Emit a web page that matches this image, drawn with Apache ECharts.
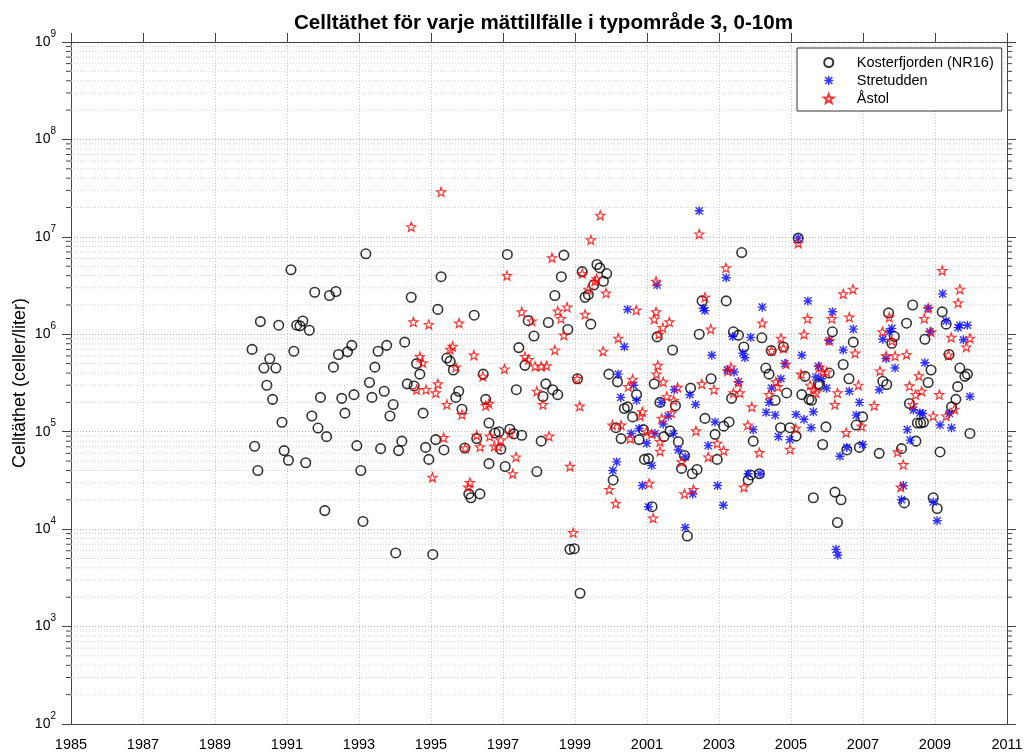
<!DOCTYPE html>
<html>
<head>
<meta charset="utf-8">
<script src="https://cdn.jsdelivr.net/npm/echarts@6/dist/echarts.min.js"></script>
</head>
<body style="margin:0;background:#fff">
<div id="main" style="width:1029px;height:755px;"></div>
<script type="text/javascript">
var kosterfjorden = [
  [1990.03,7.0e5],[1990.10,7.1e4],[1990.19,4.0e4],[1990.26,1.35e6],[1990.36,4.5e5],[1990.44,3.0e5],[1990.52,5.6e5],[1990.60,2.15e5],
  [1990.69,4.5e5],[1990.77,1.24e6],[1990.86,1.25e5],[1990.92,6.4e4],[1991.04,5.1e4],[1991.11,4.6e6],[1991.19,6.7e5],[1991.27,1.24e6],
  [1991.36,1.22e6],[1991.44,1.37e6],[1991.52,4.8e4],[1991.62,1.1e6],[1991.69,1.45e5],[1991.77,2.7e6],[1991.86,1.09e5],[1991.93,2.25e5],
  [1992.05,1.55e4],[1992.10,8.9e4],[1992.18,2.5e6],[1992.29,4.6e5],[1992.36,2.75e6],[1992.43,6.2e5],[1992.52,2.2e5],[1992.61,1.55e5],
  [1992.68,6.6e5],[1992.80,7.7e5],[1992.86,2.4e5],[1992.94,7.2e4],[1993.05,4.0e4],[1993.11,1.2e4],[1993.19,6.7e6],[1993.29,3.2e5],
  [1993.36,2.25e5],[1993.44,4.6e5],[1993.53,6.7e5],[1993.60,6.7e4],[1993.70,2.6e5],[1993.77,7.7e5],[1993.86,1.45e5],[1993.95,1.9e5],
  [1994.02,5.7e3],[1994.10,6.4e4],[1994.19,8.0e4],[1994.27,8.3e5],[1994.34,3.1e5],[1994.45,2.4e6],[1994.53,2.95e5],[1994.60,5.0e5],
  [1994.69,3.9e5],[1994.78,1.55e5],[1994.85,6.9e4],[1994.94,5.2e4],[1995.05,5.5e3],[1995.13,8.3e4],[1995.19,1.8e6],[1995.28,3.9e6],
  [1995.36,6.5e4],[1995.44,5.7e5],[1995.53,5.3e5],[1995.62,4.3e5],[1995.69,2.25e5],[1995.77,2.6e5],[1995.86,1.7e5],[1995.94,6.8e4],
  [1996.05,2.3e4],[1996.11,2.1e4],[1996.20,1.57e6],[1996.27,8.5e4],[1996.36,2.3e4],[1996.45,3.9e5],[1996.52,2.15e5],[1996.61,1.23e5],
  [1996.61,4.7e4],[1996.78,9.7e4],[1996.89,1.0e5],[1996.94,6.6e4],[1997.06,4.4e4],[1997.12,6.6e6],[1997.19,1.06e5],[1997.30,9.5e4],
  [1997.37,2.7e5],[1997.44,7.3e5],[1997.52,9.2e4],[1997.61,4.8e5],[1997.70,1.38e6],[1997.86,9.6e5],[1997.94,3.9e4],[1998.06,8.0e4],
  [1998.11,2.3e5],[1998.19,3.1e5],[1998.26,1.32e6],[1998.38,2.7e5],[1998.44,2.5e6],[1998.52,2.4e5],[1998.62,3.9e6],[1998.69,6.5e6],
  [1998.80,1.12e6],[1998.86,6.2e3],[1998.98,6.3e3],[1999.07,3.5e5],[1999.14,2.2e3],[1999.20,4.4e6],[1999.28,2.4e6],[1999.37,2.55e6],
  [1999.44,1.27e6],[1999.52,3.2e6],[1999.61,5.2e6],[1999.69,4.8e6],[1999.79,3.5e6],[1999.88,4.2e6],[1999.94,3.9e5],[2000.06,3.2e4],
  [2000.14,1.1e5],[2000.18,3.25e5],[2000.28,8.5e4],[2000.37,1.73e5],[2000.46,1.8e5],[2000.60,1.42e5],[2000.71,2.4e5],[2000.78,8.3e4],
  [2000.90,1.05e5],[2000.93,5.2e4],[2001.04,5.3e4],[2001.14,1.7e4],[2001.20,3.1e5],[2001.28,9.4e5],[2001.36,2.0e5],[2001.47,8.9e4],
  [2001.64,1.02e5],[2001.71,6.9e5],[2001.79,1.85e5],[2001.87,7.9e4],[2001.96,4.2e4],[2002.04,5.7e4],[2002.12,8.5e3],[2002.21,2.8e5],
  [2002.26,3.7e4],[2002.39,4.1e4],[2002.45,1.0e6],[2002.53,2.2e6],[2002.61,1.37e5],[2002.78,3.5e5],[2002.89,9.4e4],[2002.95,5.2e4],
  [2003.13,1.14e5],[2003.20,2.2e6],[2003.28,1.26e5],[2003.35,2.2e5],[2003.40,1.06e6],[2003.54,9.8e5],[2003.63,6.9e6],[2003.69,7.4e5],
  [2003.81,3.2e4],[2003.88,3.6e4],[2003.95,8.0e4],[2004.12,3.7e4],[2004.19,9.2e5],[2004.30,4.5e5],[2004.39,3.9e5],[2004.45,6.8e5],
  [2004.56,2.1e5],[2004.71,1.1e5],[2004.79,7.4e5],[2004.88,2.5e5],[2004.97,1.1e5],[2005.14,9.0e4],[2005.20,9.7e6],[2005.30,2.4e5],
  [2005.39,3.7e5],[2005.50,2.15e5],[2005.57,2.1e5],[2005.62,2.1e4],[2005.76,3.1e5],[2005.80,3.0e5],[2005.88,7.4e4],[2005.97,1.12e5],
  [2006.06,4.0e5],[2006.15,1.06e6],[2006.22,2.4e4],[2006.29,1.17e4],[2006.39,2.0e4],[2006.45,4.9e5],[2006.55,6.5e4],[2006.61,3.5e5],
  [2006.73,8.3e5],[2006.81,1.17e5],[2006.90,6.9e4],[2006.99,1.42e5],[2007.45,6.0e4],[2007.55,3.3e5],[2007.66,3.05e5],[2007.71,1.66e6],
  [2007.80,8.1e5],[2007.87,9.5e5],[2008.07,6.7e4],[2008.15,1.86e4],[2008.21,1.3e6],[2008.29,1.95e5],[2008.38,2.0e6],[2008.47,8.0e4],
  [2008.51,1.23e5],[2008.60,1.23e5],[2008.68,1.25e5],[2008.72,8.9e5],[2008.81,3.2e5],[2008.89,4.3e5],[2008.95,2.1e4],[2009.06,1.63e4],
  [2009.14,6.2e4],[2009.20,1.7e6],[2009.31,1.27e6],[2009.39,6.2e5],[2009.46,1.8e5],[2009.58,2.15e5],[2009.63,2.9e5],[2009.69,4.5e5],
  [2009.83,3.7e5],[2009.90,3.9e5],[2009.97,9.6e4]
];

var stretudden = [
  [2000.05,4.0e4],[2000.16,4.9e4],[2000.20,3.9e5],[2000.27,2.25e5],[2000.37,7.45e5],[2000.46,1.8e6],[2000.56,9.6e4],[2000.63,3.0e5],
  [2000.71,2.1e5],[2000.78,1.08e5],[2000.87,2.8e4],[2000.99,7.6e4],[2001.04,1.7e4],[2001.13,4.5e4],[2001.22,9.6e4],[2001.28,3.2e6],
  [2001.39,2.0e5],[2001.45,1.2e5],[2001.59,1.45e5],[2001.73,9.6e4],[2001.76,2.7e5],[2001.87,6.5e4],[2002.06,5.5e4],[2002.06,1.04e4],
  [2002.19,2.4e5],[2002.27,2.3e4],[2002.35,1.9e5],[2002.45,1.85e7],[2002.56,1.85e6],[2002.61,1.75e6],[2002.70,7.2e4],[2002.80,6.1e5],
  [2002.89,1.26e5],[2002.96,2.8e4],[2003.12,1.76e4],[2003.20,3.8e6],[2003.23,4.3e5],[2003.38,9.5e5],[2003.42,4.1e5],[2003.54,3.25e5],
  [2003.66,6.4e5],[2003.72,5.75e5],[2003.81,3.7e4],[2003.88,9.3e5],[2003.95,1.05e5],[2004.14,3.7e4],[2004.20,1.9e6],[2004.31,1.58e5],
  [2004.39,2.0e5],[2004.46,2.8e5],[2004.56,1.48e5],[2004.65,8.9e4],[2004.72,3.5e5],[2004.83,5.0e5],[2004.97,8.3e4],[2005.14,1.5e5],
  [2005.20,9.7e6],[2005.30,6.1e5],[2005.36,1.34e5],[2005.47,2.2e6],[2005.56,1.1e5],[2005.62,1.6e5],[2005.69,3.65e5],[2005.76,4.7e5],
  [2005.85,3.5e5],[2005.99,2.8e5],[2006.06,8.6e5],[2006.15,1.7e6],[2006.25,6.2e3],[2006.30,5.4e3],[2006.36,5.6e4],[2006.45,6.9e5],
  [2006.55,6.9e4],[2006.62,2.6e5],[2006.73,1.13e6],[2006.81,1.48e5],[2006.90,2.0e5],[2006.99,7.4e4],[2007.45,2.7e5],[2007.55,8.9e5],
  [2007.64,5.65e5],[2007.73,1.06e6],[2007.80,1.15e6],[2007.89,4.5e5],[2008.07,2.0e4],[2008.12,2.8e4],[2008.23,1.05e5],[2008.31,8.2e4],
  [2008.40,1.67e5],[2008.58,1.56e5],[2008.66,1.54e5],[2008.72,5.1e5],[2008.81,1.85e6],[2008.86,1.06e6],[2008.95,1.9e4],[2009.06,1.22e4],
  [2009.14,1.17e5],[2009.21,2.6e6],[2009.31,1.37e6],[2009.40,1.54e5],[2009.46,1.1e5],[2009.64,1.17e6],[2009.69,1.24e6],[2009.79,8.8e5],
  [2009.90,1.24e6],[2009.97,2.3e5]
];

var astol = [
  [1994.45,1.27e7],[1994.51,1.34e6],[1994.60,2.7e5],[1994.69,5.9e5],[1994.77,5.1e5],[1994.86,2.7e5],[1994.94,1.26e6],[1995.04,3.4e4],
  [1995.13,2.5e5],[1995.19,3.1e5],[1995.28,2.9e7],[1995.35,8.7e4],[1995.44,1.9e5],[1995.53,7.0e5],[1995.60,7.5e5],[1995.69,4.6e5],
  [1995.78,1.3e6],[1995.86,1.5e5],[1995.95,6.8e4],[1996.03,2.7e4],[1996.08,3.0e4],[1996.19,6.1e5],[1996.27,9.2e4],[1996.36,7.0e4],
  [1996.44,3.7e5],[1996.52,1.85e5],[1996.61,1.95e5],[1996.63,9.0e4],[1996.76,7.1e4],[1996.87,7.0e4],[1996.94,8.2e4],[1997.04,4.4e5],
  [1997.11,4.0e6],[1997.19,9.6e4],[1997.27,3.7e4],[1997.36,5.5e4],[1997.52,1.7e6],[1997.61,5.9e5],[1997.71,5.5e5],[1997.80,1.37e6],
  [1997.89,4.7e5],[1997.94,2.6e5],[1998.06,4.7e5],[1998.11,1.9e5],[1998.21,4.75e5],[1998.28,9.0e4],[1998.36,6.1e6],[1998.44,6.9e5],
  [1998.52,1.73e6],[1998.61,1.45e6],[1998.69,9.8e5],[1998.78,1.9e6],[1998.86,4.4e4],[1998.95,9.2e3],[1999.06,3.5e5],[1999.13,1.83e5],
  [1999.20,4.2e6],[1999.28,1.6e6],[1999.37,2.9e6],[1999.44,9.3e6],[1999.55,3.5e6],[1999.60,3.7e6],[1999.70,1.66e7],[1999.78,6.7e5],
  [1999.86,2.65e6],[1999.95,2.55e4],[2000.04,1.17e5],[2000.13,1.84e4],[2000.20,9.1e5],[2000.28,1.17e5],[2000.48,2.9e5],[2000.53,8.5e4],
  [2000.60,3.45e5],[2000.70,1.77e6],[2000.81,1.45e5],[2000.87,1.6e5],[2000.99,1.0e5],[2001.06,2.95e4],[2001.13,9.5e4],[2001.17,1.3e4],
  [2001.20,1.43e6],[2001.25,1.7e6],[2001.25,3.5e6],[2001.26,3.9e5],[2001.30,4.8e5],[2001.33,1.0e6],[2001.36,7.9e4],[2001.36,6.3e4],
  [2001.41,1.37e5],[2001.44,1.17e6],[2001.45,3.25e5],[2001.55,2.3e5],[2001.62,1.34e6],[2001.68,1.56e5],[2001.74,2.1e5],[2001.85,2.85e5],
  [2001.96,4.9e4],[2002.04,2.3e4],[2002.29,2.55e4],[2002.36,1.02e5],[2002.45,1.07e7],[2002.52,3.1e5],[2002.61,2.4e6],[2002.70,5.5e4],
  [2002.77,1.13e6],[2002.86,2.7e5],[2002.95,7.6e4],[2003.13,6.4e4],[2003.19,4.8e6],[2003.24,4.2e5],[2003.33,4.6e5],[2003.40,2.5e5],
  [2003.54,3.2e5],[2003.58,2.5e5],[2003.69,2.7e4],[2003.80,1.17e5],[2003.91,1.8e5],[2004.12,6.1e4],[2004.20,1.3e6],[2004.39,2.4e5],
  [2004.46,6.8e5],[2004.58,3.25e5],[2004.63,2.9e5],[2004.72,9.1e5],[2004.79,7.2e5],[2004.86,4.95e5],[2004.97,6.6e4],[2005.13,1.08e5],
  [2005.20,8.6e6],[2005.28,3.9e5],[2005.36,1.0e6],[2005.46,1.45e6],[2005.53,3.0e5],[2005.62,2.7e5],[2005.69,2.5e5],[2005.79,4.6e5],
  [2005.88,4.1e5],[2005.99,4.1e5],[2006.06,8.6e5],[2006.13,1.45e6],[2006.22,1.9e5],[2006.29,2.5e5],[2006.45,2.6e6],[2006.53,9.8e4],
  [2006.62,1.5e6],[2006.72,2.9e6],[2006.78,6.4e5],[2006.87,3.0e5],[2006.96,1.14e5],[2007.31,1.85e5],[2007.47,4.2e5],[2007.54,1.06e6],
  [2007.64,6.0e5],[2007.73,1.5e6],[2007.80,8.6e5],[2007.89,6.0e5],[2007.96,6.2e4],[2008.05,2.7e4],[2008.12,4.6e4],[2008.21,6.2e5],
  [2008.29,2.95e5],[2008.38,1.9e5],[2008.46,2.4e5],[2008.55,3.75e5],[2008.63,2.6e5],[2008.70,1.45e6],[2008.81,1.85e6],[2008.89,1.06e6],
  [2008.95,1.45e5],[2009.12,2.4e5],[2009.20,4.5e6],[2009.31,1.45e5],[2009.37,6.1e5],[2009.45,9.3e5],[2009.54,1.7e5],[2009.64,2.1e6],
  [2009.69,2.9e6],[2009.87,7.4e5],[2009.97,9.1e5]
];

var seriesNames = ['Kosterfjorden (NR16)', 'Stretudden', 'Åstol'];
var titleText = 'Celltäthet för varje mättillfälle i typområde 3, 0-10m';
var yName = 'Celltäthet (celler/liter)';

var FONT = '"Liberation Sans", Arial, sans-serif';
var AXIS = '#444';

// minor log gridlines (2..9 within each decade), drawn through the y scale
var minorLines = [];
for (var e = 2; e < 9; e++) {
    for (var k = 2; k <= 9; k++) {
        minorLines.push([1985, k * Math.pow(10, e)]);
    }
}

var STAR = 'path://M5,0 L6.2,3.3 L9.76,3.46 L7,5.65 L7.94,9.05 L5,7.1 L2.06,9.05 L3,5.65 L0.24,3.46 L3.8,3.3 Z';
var ASTERISK = 'path://M4.2,0 L5.8,0 L5.8,10 L4.2,10 Z M0,4.2 L10,4.2 L10,5.8 L0,5.8 Z ' +
    'M0.5,1.6 L1.6,0.5 L9.5,8.4 L8.4,9.5 Z M8.4,0.5 L9.5,1.6 L1.6,9.5 L0.5,8.4 Z';

function renderMinor(params, api) {
    var v = api.value(1);
    var a = api.coord([1985, v]);
    var b = api.coord([2011, v]);
    return {
        type: 'group',
        children: [
            { type: 'line', shape: { x1: a[0], y1: a[1], x2: b[0], y2: b[1] },
              style: { stroke: '#d2d2d2', lineWidth: 1, lineDash: [1, 2] } },
            { type: 'line', shape: { x1: a[0] - 5, y1: a[1], x2: a[0], y2: a[1] },
              style: { stroke: AXIS, lineWidth: 1 } },
            { type: 'line', shape: { x1: b[0], y1: b[1], x2: b[0] + 5, y2: b[1] },
              style: { stroke: AXIS, lineWidth: 1 } }
        ]
    };
}

function powLabel(v) {
    return '{b|10}{s|' + Math.round(Math.log(v) / Math.LN10) + '}';
}

var chart = echarts.init(document.getElementById('main'));
var option = {
    animation: false,
    backgroundColor: '#fff',
    textStyle: { fontFamily: FONT },
    title: {
        text: titleText,
        left: 289,
        top: 8,
        textStyle: { fontSize: 20.6, fontWeight: 'bold', color: '#000', fontFamily: FONT }
    },
    legend: {
        data: seriesNames,
        orient: 'vertical',
        left: 797,
        top: 48,
        padding: [7, 8, 5, 26],
        itemWidth: 12,
        itemHeight: 9,
        itemGap: 3,
        backgroundColor: '#fff',
        borderColor: '#333',
        borderWidth: 1,
        textStyle: { fontSize: 14.5, color: '#000', fontFamily: FONT, padding: [0, 0, 0, 17] }
    },
    grid: { left: 71, right: 22, top: 42, bottom: 31, outerBoundsMode: 'none' },
    xAxis: [{
        type: 'value', min: 1985, max: 2011, interval: 2, position: 'bottom',
        axisLine: { onZero: false, lineStyle: { color: AXIS } },
        axisTick: { show: false },
        axisLabel: {
            fontSize: 14.5, color: '#000', margin: 13, fontFamily: FONT,
            formatter: function (v) { return String(v); }
        },
        splitLine: { show: true, lineStyle: { color: '#c8c8c8', type: [1, 2] } }
    }, {
        type: 'value', min: 1985, max: 2011, interval: 2, position: 'top',
        axisLine: { show: true, onZero: false, lineStyle: { color: AXIS } },
        axisTick: { show: true, inside: false, length: 9, lineStyle: { color: AXIS } },
        axisLabel: { show: false },
        splitLine: { show: false }
    }],
    yAxis: [{
        type: 'log', logBase: 10, min: 100, max: 1e9, splitNumber: 7, position: 'left',
        name: yName, nameLocation: 'middle', nameGap: 42, nameMoveOverlap: false,
        nameTextStyle: { fontSize: 18, color: '#000', fontFamily: FONT },
        axisLine: { show: true, onZero: false, lineStyle: { color: AXIS } },
        axisTick: { show: true, inside: false, length: 9, lineStyle: { color: AXIS } },
        axisLabel: {
            formatter: powLabel, margin: 15, color: '#000',
            rich: {
                b: { fontSize: 14, fontFamily: FONT, color: '#000', lineHeight: 28, verticalAlign: 'middle' },
                s: { fontSize: 10, fontFamily: FONT, color: '#000', verticalAlign: 'top', padding: [1, 0, 0, 0] }
            }
        },
        splitLine: { show: true, lineStyle: { color: '#b4b4b4', type: [1, 2] } }
    }, {
        type: 'log', logBase: 10, min: 100, max: 1e9, splitNumber: 7, position: 'right',
        axisLine: { show: true, onZero: false, lineStyle: { color: AXIS } },
        axisTick: { show: true, inside: false, length: 9, lineStyle: { color: AXIS } },
        axisLabel: { show: false },
        splitLine: { show: false }
    }],
    series: [{
        type: 'custom',
        name: 'minor',
        silent: true,
        clip: false,
        z: 1,
        renderItem: renderMinor,
        encode: { x: 0, y: 1 },
        data: minorLines
    }, {
        name: seriesNames[0],
        type: 'scatter',
        data: kosterfjorden,
        symbol: 'circle',
        symbolSize: 9.5,
        itemStyle: { color: 'rgba(255,255,255,0)', borderColor: '#000', borderWidth: 1.6 },
        z: 3
    }, {
        name: seriesNames[1],
        type: 'scatter',
        data: stretudden,
        symbol: ASTERISK,
        symbolSize: 9,
        itemStyle: { color: '#0000ff' },
        z: 4
    }, {
        name: seriesNames[2],
        type: 'scatter',
        data: astol,
        symbol: STAR,
        symbolSize: 9,
        itemStyle: { color: 'rgba(255,255,255,0)', borderColor: '#ff0000', borderWidth: 1.2 },
        z: 5
    }]
};
chart.setOption(option);
</script>
</body>
</html>
